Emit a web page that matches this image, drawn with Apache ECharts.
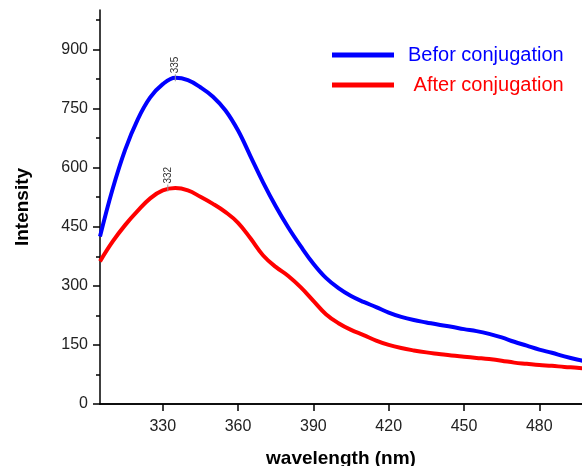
<!DOCTYPE html>
<html>
<head>
<meta charset="utf-8">
<script src="https://cdn.jsdelivr.net/npm/echarts@6/dist/echarts.min.js"></script>
<style>
	html, body { margin: 0; padding: 0; background: #fff; }
	#chart { width: 582px; height: 466px; }
</style>
</head>
<body>
<div id="chart"></div>
<script>
// wavelength (nm)
var wavelengths = [305, 310, 315, 320, 325, 330, 335, 340, 345, 350, 355, 360, 365, 370, 375, 380, 385, 390, 395, 400,
	405, 410, 415, 420, 425, 430, 435, 440, 445, 450, 455, 460, 465, 470, 475, 480, 485, 490, 495, 500];

var beforValues = [425, 545, 645, 722, 778, 812, 828, 822, 804, 780, 745, 694, 628, 562, 502, 448, 400, 356, 320, 294,
	274, 259, 246, 232, 221, 213, 207, 201, 196, 190, 185, 178, 169, 158, 148, 138, 130, 121, 113, 106];

var afterValues = [362, 412, 454, 490, 522, 542, 548, 542, 526, 508, 487, 460, 420, 377, 348, 325, 296, 262, 228, 205,
	188, 175, 161, 150, 142, 136, 131, 127, 123, 120, 117, 114, 110, 105, 102, 99, 97, 94, 92, 89];

var seriesNames = ['Befor conjugation', ' After conjugation'];
var peaks = [[335, 828], [332, 548]];

var xTicks = [330, 360, 390, 420, 450, 480];
var yTicks = [0, 150, 300, 450, 600, 750, 900];
var yMinorTicks = [75, 225, 375, 525, 675, 825, 975];

var font = 'Liberation Sans, Arial, sans-serif';

function toPairs(xs, ys) {
	return xs.map(function(x, i) {
		return [x, ys[i]];
	});
}

function peakMark(p) {
	return {
		silent: true,
		symbol: 'rect',
		symbolSize: [1, 7],
		itemStyle: { color: '#999' },
		label: {
			show: true,
			rotate: 90,
			position: 'top',
			align: 'left',
			verticalAlign: 'middle',
			distance: 1,
			fontSize: 10,
			fontFamily: font,
			color: '#333',
			formatter: String(p[0])
		},
		data: [{ coord: p }]
	};
}

var myChart = echarts.init(document.getElementById('chart'));

var option = {
	animation: false,
	textStyle: { fontFamily: font },
	grid: { left: 100, top: 10, right: 0, bottom: 62, outerBoundsMode: 'none' },
	legend: {
		orient: 'vertical',
		left: 332,
		top: 44,
		padding: 0,
		itemWidth: 62,
		itemHeight: 5,
		itemGap: 8,
		icon: 'rect',
		textStyle: { fontSize: 20, fontFamily: font, padding: [0, 0, 0, 9], lineHeight: 22 },
		data: [
			{ name: seriesNames[0], textStyle: { color: '#0000ff' } },
			{ name: seriesNames[1], textStyle: { color: '#ff0000' } }
		]
	},
	xAxis: [{
		type: 'value',
		min: 305,
		max: 497,
		name: 'wavelength (nm)',
		nameLocation: 'middle',
		nameGap: 45,
		nameTextStyle: { fontSize: 19, fontWeight: 'bold', color: '#000' },
		axisLine: { lineStyle: { color: '#000', width: 1.5 } },
		axisTick: { inside: false, length: 7, customValues: xTicks, lineStyle: { color: '#000', width: 1.5 } },
		axisLabel: { customValues: xTicks, fontSize: 16, color: '#222', margin: 15 },
		splitLine: { show: false }
	}, {
		type: 'value',
		position: 'top',
		min: 305,
		max: 497,
		axisLine: { show: true, lineStyle: { color: '#000', width: 1.5 } },
		axisTick: { show: false },
		axisLabel: { show: false },
		splitLine: { show: false }
	}],
	yAxis: [{
		type: 'value',
		min: 0,
		max: 1000,
		name: 'Intensity',
		nameLocation: 'middle',
		nameGap: 68,
		nameTextStyle: { fontSize: 19, fontWeight: 'bold', color: '#000' },
		axisLine: { show: true, lineStyle: { color: '#000', width: 1.5 } },
		axisTick: { show: true, length: 7, customValues: yTicks, lineStyle: { color: '#000', width: 1.5 } },
		axisLabel: { customValues: yTicks, fontSize: 16, color: '#222', margin: 12 },
		splitLine: { show: false }
	}, {
		type: 'value',
		position: 'left',
		min: 0,
		max: 1000,
		axisLine: { show: false },
		axisTick: { show: true, length: 4, customValues: yMinorTicks, lineStyle: { color: '#000', width: 1.5 } },
		axisLabel: { show: false },
		splitLine: { show: false }
	}],
	series: [{
		name: seriesNames[0],
		type: 'line',
		smooth: 0.4,
		symbol: 'none',
		clip: true,
		color: '#0000ff',
		lineStyle: { width: 4, color: '#0000ff' },
		data: toPairs(wavelengths, beforValues),
		markPoint: peakMark(peaks[0])
	}, {
		name: seriesNames[1],
		type: 'line',
		smooth: 0.4,
		symbol: 'none',
		clip: true,
		color: '#ff0000',
		lineStyle: { width: 4, color: '#ff0000' },
		data: toPairs(wavelengths, afterValues),
		markPoint: peakMark(peaks[1])
	}]
};

myChart.setOption(option);
</script>
</body>
</html>
